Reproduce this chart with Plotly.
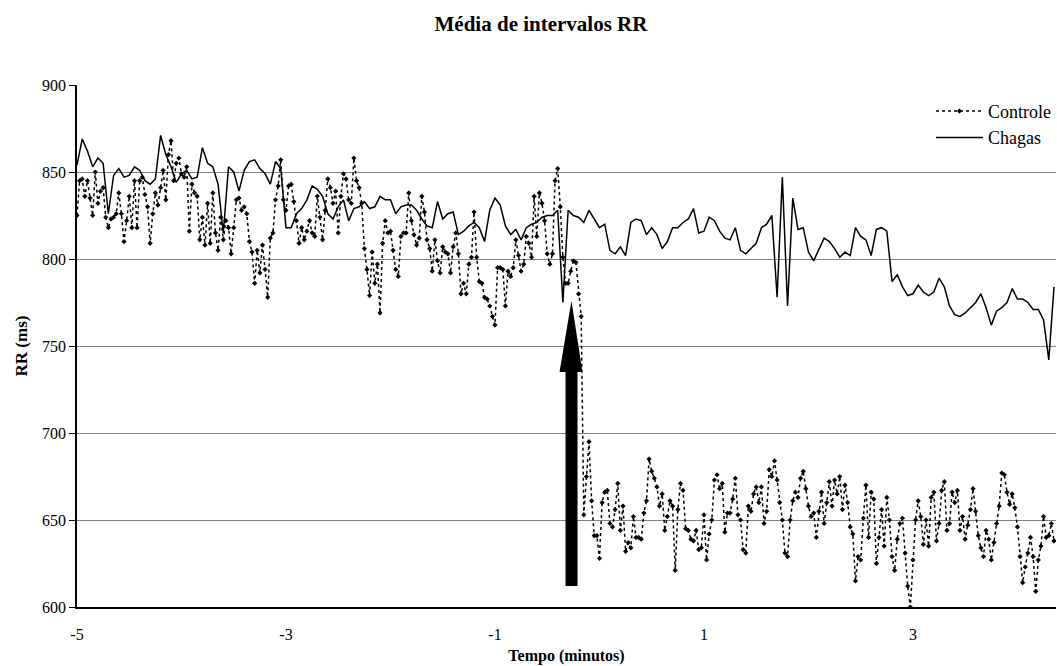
import numpy as np
import plotly.graph_objects as go

T0 = -5.0
DT_CHAGAS = 0.05
DT_CONTROLE = 0.025

chagas = [
    854, 869, 862, 853, 858, 855, 826, 848, 852, 847,
    848, 853, 851, 845, 843, 846, 871, 860, 853, 844,
    849, 851, 846, 847, 864, 855, 853, 843, 815, 853,
    850, 839, 851, 856, 857, 852, 849, 843, 856, 852,
    818, 818, 826, 829, 834, 842, 840, 836, 826, 823,
    830, 834, 822, 829, 830, 833, 829, 830, 836, 834,
    834, 826, 830, 831,
    831, 828, 823, 819, 818, 833,
    823, 826, 827, 814, 816, 819, 821, 818, 810, 828,
    835, 831, 819, 814, 817, 811, 818, 820, 821, 824,
    825, 825, 828, 775, 828, 825, 824, 821, 828, 823,
    818, 820, 805, 803, 807, 802, 821, 823, 822, 814,
    818, 814, 806, 810, 818, 818, 821, 823, 829, 815,
    816, 824, 822, 816, 812, 811, 818, 805, 803,
    806, 809, 818, 820, 825, 778, 847, 773, 835, 817, 818,
    804, 799, 806, 812, 810, 806, 801, 804, 802, 818,
    813, 811, 802, 817, 818, 816, 787, 791, 784, 779,
    780, 785, 781, 779, 781, 789, 784, 773, 768, 767,
    769, 772, 775, 780, 772, 762, 770, 772, 775, 783,
    777, 777, 775, 771, 771, 765, 742, 784,
]

controle = [
    # -5.0 .. -1.825
    825, 845, 846, 836, 845, 835, 825, 850, 832, 839,
    841, 824, 818, 823, 824, 826, 838, 826, 810, 822,
    836, 818, 845, 818, 845, 847, 837, 830, 809, 826,
    838, 831, 841, 851, 834, 860, 868, 845, 855, 858,
    849, 847, 853, 816, 843, 838, 836, 811, 824, 808,
    832, 809, 838, 815, 805, 824, 811, 822, 818, 803,
    818, 834, 835, 828, 830, 826, 810, 804, 786, 805,
    792, 808, 794, 778, 812, 815, 834, 842, 857, 834,
    828, 842, 843, 833, 822, 809, 818, 811, 816, 822,
    815, 813, 836, 824, 811, 828, 846, 841, 832, 839,
    815, 836, 849, 846, 834, 832, 858, 845, 841, 832,
    806, 794, 779, 804, 786, 797, 769, 809, 822, 815,
    816, 805, 794, 790, 813, 815, 815, 838,
    # -1.8 .. -0.175
    822, 814, 808, 812, 836, 827, 811, 806, 793, 811,
    799, 792, 807, 804, 803, 792, 807, 815, 803, 780,
    786, 780, 797, 801, 827, 801, 787, 786, 778, 777,
    773, 767, 762, 795, 795, 794, 773, 793, 790, 795,
    811, 802, 793, 797, 813, 809, 801, 836, 813, 838,
    832, 822, 803, 797, 803, 845, 852, 830, 801, 786,
    786, 793, 799, 798, 780, 767,
    # -0.15 .. 2.275
    653, 675, 695, 661, 641, 641, 628, 660, 666, 667,
    648, 646, 656, 671, 644, 658, 632, 637, 634, 652,
    640, 640, 639, 654, 661, 685, 678, 674, 669, 658,
    665, 644, 652, 661, 658, 621, 656, 671, 667, 645,
    644, 639, 638, 644, 633, 634, 653, 627, 642, 650,
    673, 676, 668, 671, 643, 654, 654, 662, 674, 653,
    650, 633, 631, 658, 655, 665, 669, 660, 669, 648,
    655, 679, 675, 684, 673, 660, 650, 631, 629, 650,
    661, 666, 663, 674, 678, 668, 658, 652, 654, 640,
    655, 666, 648, 660, 672, 658, 673, 665,
    # 2.3 .. 4.35
    675, 656, 670, 660, 646, 642, 615, 629, 627, 651,
    670, 640, 666, 662, 625, 640, 656, 635, 663, 650,
    629, 621, 639, 648, 651, 631, 612, 600, 627, 650,
    661, 652, 636, 650, 635, 663, 666, 638, 648, 667,
    672, 644, 648, 666, 660, 667, 644, 652, 639, 647,
    656, 668, 655, 641, 634, 629, 644, 639, 627, 637,
    648, 658, 677, 676, 666, 659, 665, 657, 646, 629,
    614, 623, 631, 640, 629, 609, 627, 635, 652, 640,
    641, 648, 638,
]

x_ticks = [-5, -3, -1, 1, 3]
y_ticks = [600, 650, 700, 750, 800, 850, 900]

t_chagas = T0 + DT_CHAGAS * np.arange(len(chagas))
t_controle = T0 + DT_CONTROLE * np.arange(len(controle))

FONT = "Liberation Serif"

fig = go.Figure()
fig.add_trace(go.Scatter(
    x=t_controle, y=controle, name="Controle", mode="lines+markers",
    line=dict(color="black", width=1.5, dash="dot"),
    marker=dict(color="black", size=4, symbol="diamond"),
))
fig.add_trace(go.Scatter(
    x=t_chagas, y=chagas, name="Chagas", mode="lines",
    line=dict(color="black", width=1.5),
))

# arrow (shaft + head)
fig.add_shape(type="rect", xref="x", yref="y", x0=-0.325, x1=-0.21, y0=612, y1=736,
              fillcolor="black", line=dict(width=0))
fig.add_shape(type="path", xref="x", yref="y",
              path="M -0.382 735 L -0.163 735 L -0.268 776 Z",
              fillcolor="black", line=dict(width=0))

fig.update_layout(
    width=1057, height=666,
    margin=dict(l=77, r=0, t=85, b=59),
    paper_bgcolor="white", plot_bgcolor="white",
    font=dict(family=FONT, color="black", size=16),
    title=dict(text="<b>Média de intervalos RR</b>", x=541/1057, xref="container",
               xanchor="center", y=1-24/666, yanchor="middle", yref="container",
               font=dict(family=FONT, size=21, color="black")),
    showlegend=True,
    legend=dict(x=0.872, y=0.985, xanchor="left", yanchor="top",
                bgcolor="rgba(0,0,0,0)", font=dict(family=FONT, size=18),
                tracegroupgap=0, itemwidth=47),
)
fig.update_xaxes(
    range=[-5, 4.369], tickmode="array", tickvals=x_ticks,
    ticktext=[str(v) for v in x_ticks], showgrid=False, zeroline=False,
    showline=True, linecolor="black", linewidth=1.5, ticks="",
    ticklabelstandoff=12, tickfont=dict(family=FONT, size=16),
    title=dict(text="<b>Tempo (minutos)</b>", font=dict(family=FONT, size=16), standoff=8),
)
fig.update_yaxes(
    range=[600, 900], tickmode="array", tickvals=y_ticks,
    showgrid=True, gridcolor="#808080", gridwidth=1, zeroline=False,
    showline=True, linecolor="black", linewidth=1.5, ticks="outside", ticklen=6,
    tickcolor="black", tickfont=dict(family=FONT, size=16),
    title=dict(text="<b>RR (ms)</b>", font=dict(family=FONT, size=17), standoff=10),
)

fig.write_html("out.html")
